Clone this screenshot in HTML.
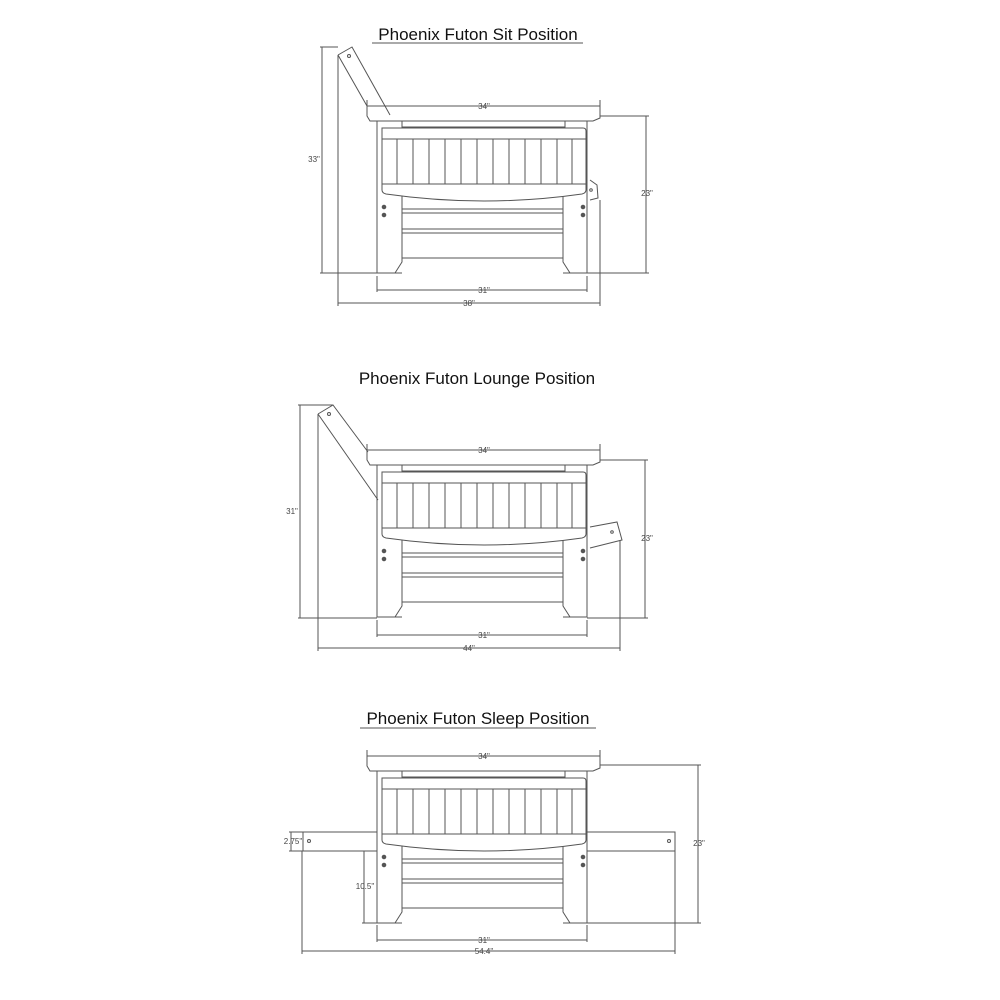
<!DOCTYPE html>
<html><head><meta charset="utf-8"><style>
html,body{margin:0;padding:0;background:#fff;width:1000px;height:1000px;overflow:hidden}
svg{display:block}
text{font-family:"Liberation Sans",sans-serif}
.t{font-size:17px;fill:#111}
.d{font-size:8px;fill:#444}
</style></head><body>
<svg width="1000" height="1000" viewBox="0 0 1000 1000" xmlns="http://www.w3.org/2000/svg">
<defs>
<g id="frame" fill="none" stroke="#555" stroke-width="1">
  <path d="M367,106 L600,106 L600,118 L593,121 L370,121 L367,116 Z"/>
  <rect x="402" y="121" width="163" height="6"/>
  <path d="M377,121 V273 H402 L402,273 M395,273 L402,262 V196"/>
  <path d="M587,121 V273 H563 M570,273 L563,262 V196"/>
  <line x1="377" y1="273" x2="395" y2="273"/>
  <line x1="570" y1="273" x2="587" y2="273"/>
  <path d="M382,128 H583 Q586,128 586,131 V139 H382 Z"/>
  <rect x="382" y="139" width="204" height="45"/>
  <g>
    <line x1="397" y1="139" x2="397" y2="184"/><line x1="413" y1="139" x2="413" y2="184"/>
    <line x1="429" y1="139" x2="429" y2="184"/><line x1="445" y1="139" x2="445" y2="184"/>
    <line x1="461" y1="139" x2="461" y2="184"/><line x1="477" y1="139" x2="477" y2="184"/>
    <line x1="493" y1="139" x2="493" y2="184"/><line x1="509" y1="139" x2="509" y2="184"/>
    <line x1="525" y1="139" x2="525" y2="184"/><line x1="541" y1="139" x2="541" y2="184"/>
    <line x1="557" y1="139" x2="557" y2="184"/><line x1="572" y1="139" x2="572" y2="184"/>
  </g>
  <path d="M382,184 V190 Q382,193 386,194 Q484,208 582,194 Q586,193 586,190 V184"/>
  <line x1="402" y1="209" x2="563" y2="209"/><line x1="402" y1="213" x2="563" y2="213"/>
  <line x1="402" y1="229" x2="563" y2="229"/><line x1="402" y1="233" x2="563" y2="233"/>
  <line x1="402" y1="258" x2="563" y2="258"/>
  <circle cx="384" cy="207" r="1.8" fill="#555"/><circle cx="384" cy="215" r="1.8" fill="#555"/>
  <circle cx="583" cy="207" r="1.8" fill="#555"/><circle cx="583" cy="215" r="1.8" fill="#555"/>
</g>
</defs>
<g stroke="#555" fill="none" stroke-width="1">
  <!-- SIT -->
  <use href="#frame"/>
  <path d="M338,55 L352,47 L390,115 M338,55 L367,106 "/>
  <circle cx="349" cy="56" r="1.5"/>
  <path d="M590,180 L597,185 L598,198 L590,200"/>
  <circle cx="591" cy="190" r="1.3"/>
  <line x1="322" y1="47" x2="322" y2="273"/><line x1="320" y1="47" x2="338" y2="47"/><line x1="320" y1="273" x2="377" y2="273"/>
  <line x1="338" y1="55" x2="338" y2="306"/>
  <line x1="646" y1="116" x2="646" y2="273"/><line x1="600" y1="116" x2="649" y2="116"/><line x1="587" y1="273" x2="649" y2="273"/>
  <line x1="377" y1="290" x2="587" y2="290"/><line x1="377" y1="276" x2="377" y2="292"/><line x1="587" y1="276" x2="587" y2="292"/>
  <line x1="338" y1="303" x2="600" y2="303"/><line x1="600" y1="200" x2="600" y2="306"/>
  <line x1="367" y1="100" x2="367" y2="106"/><line x1="600" y1="100" x2="600" y2="106"/>
  <line x1="372" y1="43" x2="583" y2="43"/>
</g>
<text class="t" x="478" y="40" text-anchor="middle">Phoenix Futon Sit Position</text>
<text class="d" x="484" y="109" text-anchor="middle">34"</text>
<text class="d" x="314" y="162" text-anchor="middle">33"</text>
<text class="d" x="647" y="196" text-anchor="middle">23"</text>
<text class="d" x="484" y="293" text-anchor="middle">31"</text>
<text class="d" x="469" y="306" text-anchor="middle">38"</text>

<g stroke="#555" fill="none" stroke-width="1">
  <!-- LOUNGE -->
  <use href="#frame" transform="translate(0,344)"/>
  <path d="M318,414 L333,405 L368,452 M318,414 L378,500"/>
  <circle cx="329" cy="414" r="1.5"/>
  <path d="M590,527 L617,522 L622,540 L590,548"/>
  <circle cx="612" cy="532" r="1.3"/>
  <line x1="300" y1="405" x2="300" y2="618"/><line x1="298" y1="405" x2="333" y2="405"/><line x1="298" y1="618" x2="377" y2="618"/>
  <line x1="318" y1="414" x2="318" y2="651"/>
  <line x1="645" y1="460" x2="645" y2="618"/><line x1="600" y1="460" x2="648" y2="460"/><line x1="587" y1="618" x2="648" y2="618"/>
  <line x1="620" y1="540" x2="620" y2="651"/>
  <line x1="377" y1="635" x2="587" y2="635"/><line x1="377" y1="620" x2="377" y2="637"/><line x1="587" y1="620" x2="587" y2="637"/>
  <line x1="318" y1="648" x2="620" y2="648"/>
  <line x1="367" y1="444" x2="367" y2="450"/><line x1="600" y1="444" x2="600" y2="450"/>
</g>
<text class="t" x="477" y="384" text-anchor="middle">Phoenix Futon Lounge Position</text>
<text class="d" x="484" y="453" text-anchor="middle">34"</text>
<text class="d" x="292" y="514" text-anchor="middle">31"</text>
<text class="d" x="647" y="541" text-anchor="middle">23"</text>
<text class="d" x="484" y="638" text-anchor="middle">31"</text>
<text class="d" x="469" y="651" text-anchor="middle">44"</text>

<g stroke="#555" fill="none" stroke-width="1">
  <!-- SLEEP -->
  <use href="#frame" transform="translate(0,650)"/>
  <rect x="303" y="832" width="74" height="19"/>
  <rect x="587" y="832" width="88" height="19"/>
  <circle cx="309" cy="841" r="1.5"/><circle cx="669" cy="841" r="1.5"/>
  <line x1="291" y1="832" x2="291" y2="851"/><line x1="289" y1="832" x2="303" y2="832"/><line x1="289" y1="851" x2="303" y2="851"/>
  <line x1="364" y1="851" x2="364" y2="923"/><line x1="362" y1="851" x2="377" y2="851"/><line x1="362" y1="923" x2="377" y2="923"/>
  <line x1="698" y1="765" x2="698" y2="923"/><line x1="600" y1="765" x2="701" y2="765"/><line x1="587" y1="923" x2="701" y2="923"/>
  <line x1="377" y1="940" x2="587" y2="940"/><line x1="377" y1="925" x2="377" y2="942"/><line x1="587" y1="925" x2="587" y2="942"/>
  <line x1="302" y1="951" x2="675" y2="951"/><line x1="302" y1="851" x2="302" y2="954"/><line x1="675" y1="851" x2="675" y2="954"/>
  <line x1="367" y1="750" x2="367" y2="756"/><line x1="600" y1="750" x2="600" y2="756"/>
  <line x1="360" y1="728" x2="596" y2="728"/>
</g>
<text class="t" x="478" y="724" text-anchor="middle">Phoenix Futon Sleep Position</text>
<text class="d" x="484" y="759" text-anchor="middle">34"</text>
<text class="d" x="293" y="844" text-anchor="middle">2.75"</text>
<text class="d" x="365" y="889" text-anchor="middle">10.5"</text>
<text class="d" x="699" y="846" text-anchor="middle">23"</text>
<text class="d" x="484" y="943" text-anchor="middle">31"</text>
<text class="d" x="484" y="954" text-anchor="middle">54.4"</text>
</svg>
</body></html>
